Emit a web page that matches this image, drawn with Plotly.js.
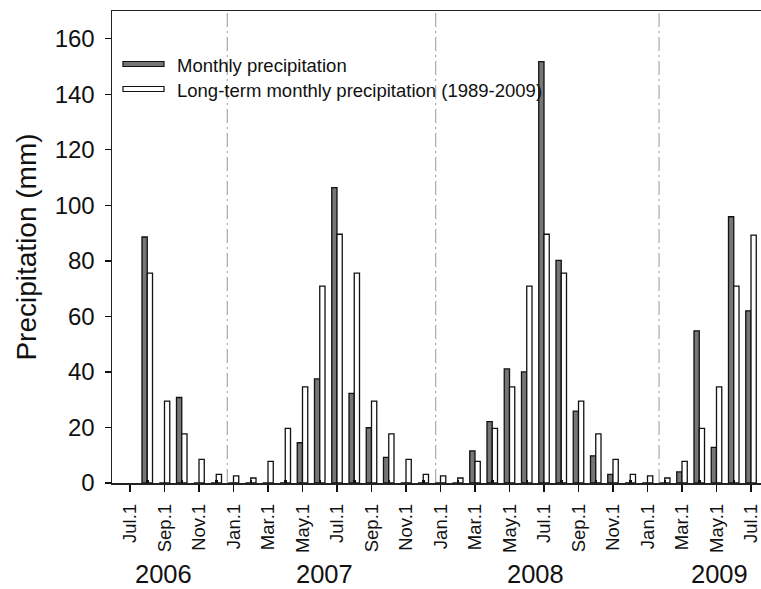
<!DOCTYPE html>
<html>
<head>
<meta charset="utf-8">
<script src="https://cdn.plot.ly/plotly-3.0.1.min.js"></script>
<style>html,body{margin:0;padding:0;background:#fff;}#chart{width:761px;height:589px;}</style>
</head>
<body>
<div id="chart"></div>
<script>
// Months Aug 2006 .. Jul 2009
const months = [
  "2006-08","2006-09","2006-10","2006-11","2006-12",
  "2007-01","2007-02","2007-03","2007-04","2007-05","2007-06","2007-07","2007-08","2007-09","2007-10","2007-11","2007-12",
  "2008-01","2008-02","2008-03","2008-04","2008-05","2008-06","2008-07","2008-08","2008-09","2008-10","2008-11","2008-12",
  "2009-01","2009-02","2009-03","2009-04","2009-05","2009-06","2009-07"
];
const monthly = [
  88.6, 0, 30.8, 0, 0,
  0, 0, 0, 0, 14.5, 37.5, 106.4, 32.3, 19.9, 9.2, 0, 0,
  0, 0, 11.6, 22.1, 41.1, 40.0, 151.8, 80.2, 25.9, 9.8, 3.1, 0,
  0, 0, 4.0, 54.8, 12.8, 95.9, 62.0
];
const longTerm = [
  75.6, 29.5, 17.7, 8.5, 3.1,
  2.6, 1.8, 7.8, 19.7, 34.6, 70.9, 89.6, 75.6, 29.5, 17.7, 8.5, 3.1,
  2.6, 1.8, 7.8, 19.7, 34.6, 70.9, 89.6, 75.6, 29.5, 17.7, 8.5, 3.1,
  2.6, 1.8, 7.8, 19.7, 34.6, 70.9, 89.3
];
const tickLabels = ["Jul.1","Sep.1","Nov.1","Jan.1","Mar.1","May.1","Jul.1","Sep.1","Nov.1",
  "Jan.1","Mar.1","May.1","Jul.1","Sep.1","Nov.1","Jan.1","Mar.1","May.1","Jul.1"];
const yearLabels = ["2006","2007","2008","2009"];
const seriesNames = ["Monthly precipitation","Long-term monthly precipitation (1989-2009)"];

// month index relative to Jul 2006
const xIdx = months.map(m => {
  const [y, mo] = m.split("-").map(Number);
  return (y - 2006) * 12 + (mo - 7);
});
const tickVals = tickLabels.map((_, i) => i * 2);
const minorVals = tickVals.slice(0, -1).map(v => v + 1);

const FONT = "Liberation Sans, Arial, Helvetica, sans-serif";
const grayFill = "#767676";

const traces = [
  {type: "bar", name: seriesNames[0], x: xIdx, y: monthly,
   marker: {color: grayFill, line: {color: "#111", width: 1.3}}, showlegend: false},
  {type: "bar", name: seriesNames[1], x: xIdx, y: longTerm,
   marker: {color: "#ffffff", line: {color: "#111", width: 1.3}}, showlegend: false}
];

// plot area geometry (px)
const L = 112, T = 11, B = 483, W = 761, H = 589;
const pw = W - L, ph = B - T;
const px2x = p => (p - L) / pw;
const py2y = p => (B - p) / ph;

const sepPos = [5.64, 17.72, 30.67];
const yearPos = [1.93, 11.3, 23.5, 34.2];

const shapes = sepPos.map(v => ({
  type: "line", xref: "x", yref: "paper", x0: v, x1: v, y0: 0, y1: 1,
  line: {color: "#a9a9a9", width: 1.2, dash: "14px,4px,2px,4px"}, layer: "below"
}));
// legend swatches
[[64, grayFill], [89, "#ffffff"]].forEach(([cy, col]) => {
  shapes.push({type: "rect", xref: "paper", yref: "paper",
    x0: px2x(123), x1: px2x(164), y0: py2y(cy + 2.5), y1: py2y(cy - 2.5),
    fillcolor: col, line: {color: "#111", width: 1.2}});
});

const annotations = [];
seriesNames.forEach((n, i) => {
  annotations.push({xref: "paper", yref: "paper", x: px2x(175), y: py2y(i === 0 ? 65 : 90),
    xanchor: "left", yanchor: "middle", text: n, showarrow: false,
    font: {family: FONT, size: 18.5, color: "#111"}});
});
yearLabels.forEach((t, i) => {
  annotations.push({xref: "x", yref: "paper", x: yearPos[i], y: py2y(589),
    xanchor: "center", yanchor: "bottom", text: t, showarrow: false, borderpad: 0,
    font: {family: FONT, size: 25.5, color: "#111"}});
});

const layout = {
  width: W, height: H,
  margin: {l: L, r: 0, t: T, b: H - B, pad: 0},
  paper_bgcolor: "#fff", plot_bgcolor: "#fff",
  barmode: "group", bargap: 0.39, bargroupgap: 0,
  font: {family: FONT, color: "#111"},
  xaxis: {
    range: [(L - 130) / 17.25, (W - 130) / 17.25],
    tickmode: "array", tickvals: tickVals, ticktext: tickLabels,
    tickangle: -90, ticks: "outside", ticklen: 7, tickwidth: 1.3, tickcolor: "#111",
    tickfont: {family: FONT, size: 18.5, color: "#111"},
    ticklabelstandoff: 5, ticklabeloverflow: "allow",
    minor: {tickmode: "array", tickvals: minorVals, ticks: "inside", ticklen: 3, tickwidth: 2.5, tickcolor: "#111"},
    showline: true, linecolor: "#222", linewidth: 1.5, mirror: true,
    showgrid: false, zeroline: false, fixedrange: true, automargin: false
  },
  yaxis: {
    range: [0, 170],
    tickmode: "linear", tick0: 0, dtick: 20,
    ticks: "outside", ticklen: 6, tickwidth: 1.3, tickcolor: "#111",
    tickfont: {family: FONT, size: 24, color: "#111"},
    ticklabelstandoff: 5,
    showline: true, linecolor: "#222", linewidth: 1.5,
    showgrid: false, zeroline: false, automargin: false,
    title: {text: "Precipitation (mm)", font: {family: FONT, size: 28, color: "#111"}, standoff: 10}
  },
  shapes: shapes,
  annotations: annotations
};

Plotly.newPlot("chart", traces, layout, {staticPlot: true, displayModeBar: false});
</script>
</body>
</html>
